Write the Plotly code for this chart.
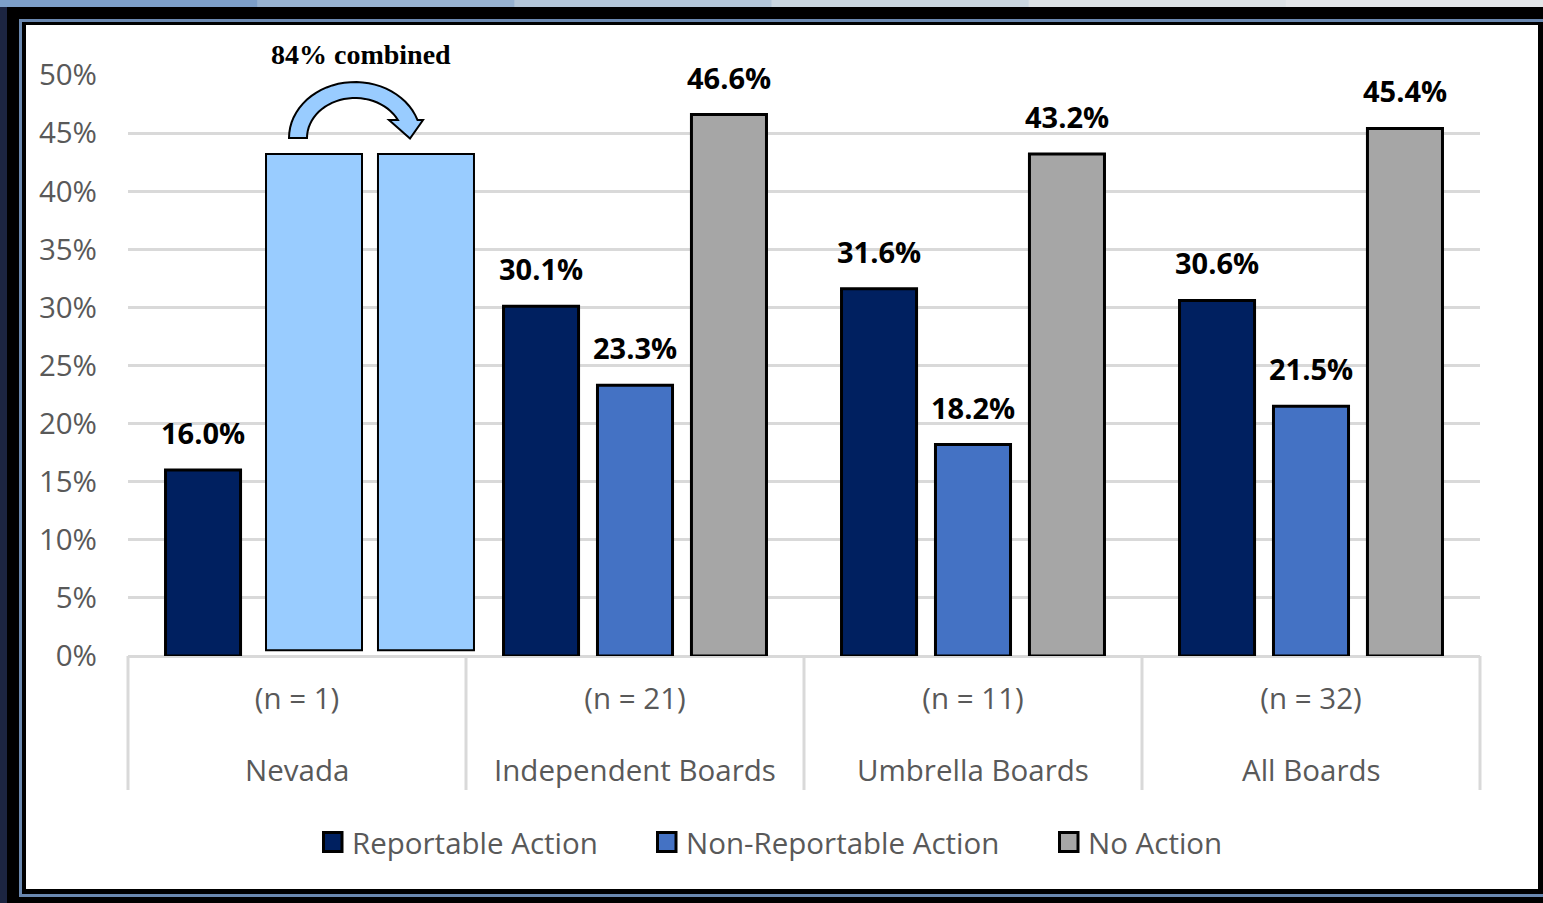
import math
import plotly.graph_objects as go

# ---------------- data ----------------
categories = ["Nevada", "Independent Boards", "Umbrella Boards", "All Boards"]
n_labels = ["(n = 1)", "(n = 21)", "(n = 11)", "(n = 32)"]
reportable = [16.0, 30.1, 31.6, 30.6]
non_reportable = [None, 23.3, 18.2, 21.5]
no_action = [None, 46.6, 43.2, 45.4]
nevada_combined_tops = [43.2, 43.2]   # the two light-blue "84% combined" bars
nevada_combined_base = 0.5
y_ticks = [0, 5, 10, 15, 20, 25, 30, 35, 40, 45, 50]
y_tick_labels = ["0%", "5%", "10%", "15%", "20%", "25%", "30%", "35%", "40%", "45%", "50%"]
series_names = ["Reportable Action", "Non-Reportable Action", "No Action"]
series_colors = ["#002060", "#4472C4", "#A6A6A6"]
combined_color = "#99CCFF"

# ---------------- geometry helpers ----------------
FW, FH = 1543, 903
PL, PR, PT, PB = 128, 1480, 75, 656
W, H = PR - PL, PB - PT


def fx(px):
    return (px - PL) / W


def fy(py):
    return (PB - py) / H


GRAY = "#595959"
GRID = "#D9D9D9"
FONT = "Open Sans"
FS = 29.5

bar_w = 0.222
centers = [-0.278, 0.0, 0.278]

fig = go.Figure()
all_series = [reportable, non_reportable, no_action]
for name, vals, col, c in zip(series_names, all_series, series_colors, centers):
    fig.add_trace(go.Bar(
        name=name, x=categories, y=vals,
        width=bar_w, offset=c - bar_w / 2,
        marker=dict(color=col, line=dict(color="black", width=3)),
        showlegend=False, hoverinfo="x+y+name",
    ))

# light blue combined bars for Nevada
fig.add_trace(go.Bar(
    name="Nevada combined", x=[categories[0]] * 2,
    y=[t - nevada_combined_base for t in nevada_combined_tops],
    base=[nevada_combined_base] * 2,
    width=[0.284, 0.284], offset=[-0.0917, 0.2396],
    marker=dict(color=combined_color, line=dict(color="black", width=2)),
    showlegend=False,
))

annotations = []
# data labels
for vals, c in zip(all_series, centers):
    for i, v in enumerate(vals):
        if v is None:
            continue
        annotations.append(dict(
            x=i + c, y=v, xref="x", yref="y", text=f"{v:.1f}%",
            showarrow=False, yanchor="bottom", yshift=16,
            font=dict(family=FONT, size=29, color="black", weight="bold"),
        ))

# category names (second tick row)
for cat in categories:
    annotations.append(dict(
        x=cat, y=fy(769), xref="x", yref="paper", text=cat, showarrow=False,
        yanchor="middle", font=dict(family=FONT, size=FS, color=GRAY),
    ))

# "84% combined"
annotations.append(dict(
    x=fx(361), y=fy(54), xref="paper", yref="paper", text="<b>84% combined</b>",
    showarrow=False, yanchor="middle", xanchor="center",
    font=dict(family="Liberation Serif", size=28, color="black"),
))

shapes = []
# frame
top_cols = ["#7D9FC8", "#97B2D0", "#B3C6D8", "#CAD6DF", "#DBE1E4", "#E3E6E8"]
seg = FW / len(top_cols)
for k, col in enumerate(top_cols):
    shapes.append(dict(type="rect", xref="paper", yref="paper",
                       x0=fx(k * seg), x1=fx((k + 1) * seg + 1), y0=fy(0), y1=fy(7),
                       fillcolor=col, line=dict(width=0), layer="below"))
shapes.append(dict(type="rect", xref="paper", yref="paper",
                   x0=fx(0), x1=fx(7), y0=fy(7), y1=fy(FH),
                   fillcolor="#1C2541", line=dict(width=0), layer="below"))
shapes.append(dict(type="rect", xref="paper", yref="paper",
                   x0=fx(20.5), x1=fx(1580), y0=fy(20.5), y1=fy(895.5),
                   fillcolor="rgba(0,0,0,0)", line=dict(color="#6A88B0", width=3),
                   layer="below"))
shapes.append(dict(type="rect", xref="paper", yref="paper",
                   x0=fx(26), x1=fx(1538), y0=fy(25), y1=fy(889),
                   fillcolor="white", line=dict(width=0), layer="below"))
# category dividers
for k in range(len(categories) + 1):
    shapes.append(dict(type="line", xref="paper", yref="paper",
                       x0=k / len(categories), x1=k / len(categories), y0=0, y1=fy(790),
                       line=dict(color=GRID, width=3), layer="below"))

# curved arrow
pts = []
cx, cy = 355, 138
rxo, ryo = 66, 56
rxi, ryi = 48, 40
t_end_o = math.asin(18 / ryo)
t_end_i = math.asin(18 / ryi)
N = 30
for j in range(N + 1):
    t = math.pi - (math.pi - t_end_o) * j / N
    pts.append((cx + rxo * math.cos(t), cy - ryo * math.sin(t)))
pts.append((423, 120))
pts.append((410, 138.5))
pts.append((389, 120))
for j in range(N + 1):
    t = t_end_i + (math.pi - t_end_i) * j / N
    pts.append((cx + rxi * math.cos(t), cy - ryi * math.sin(t)))
path = "M " + " L ".join(f"{fx(a):.5f},{fy(b):.5f}" for a, b in pts) + " Z"
shapes.append(dict(type="path", xref="paper", yref="paper", path=path,
                   fillcolor=combined_color, line=dict(color="black", width=2)))

# custom legend
leg_boxes = [322, 656, 1058]
leg_y = 842
for name, col, x0 in zip(series_names, series_colors, leg_boxes):
    shapes.append(dict(type="rect", xref="paper", yref="paper",
                       x0=fx(x0 + 1.5), x1=fx(x0 + 20), y0=fy(leg_y - 9.5), y1=fy(leg_y + 9.5),
                       fillcolor=col, line=dict(color="black", width=3)))
    annotations.append(dict(
        x=fx(x0 + 28), y=fy(leg_y), xref="paper", yref="paper", text=name,
        showarrow=False, xanchor="left", yanchor="middle",
        font=dict(family=FONT, size=FS, color=GRAY),
    ))

fig.update_layout(
    width=FW, height=FH,
    margin=dict(l=PL, r=FW - PR, t=PT, b=FH - PB, pad=0),
    paper_bgcolor="black", plot_bgcolor="rgba(0,0,0,0)",
    barmode="overlay",
    showlegend=False,
    font=dict(family=FONT, size=FS, color=GRAY),
    xaxis=dict(type="category", categoryorder="array", categoryarray=categories,
               tickvals=categories, ticktext=n_labels, range=[-0.5, 3.5],
               showgrid=False, showline=False, ticks="", zeroline=False,
               tickfont=dict(family=FONT, size=FS, color=GRAY), ticklabelstandoff=22),
    yaxis=dict(range=[0, 50], tickmode="array", tickvals=y_ticks, ticktext=y_tick_labels,
               showgrid=True, gridcolor=GRID, gridwidth=3,
               zeroline=True, zerolinecolor=GRID, zerolinewidth=3,
               showline=False, ticks="",
               tickfont=dict(family=FONT, size=FS, color=GRAY), ticklabelstandoff=30),
    annotations=annotations,
    shapes=shapes,
)

fig.write_html("out.html", config={"displayModeBar": False},
               post_script="document.body.style.margin='0';document.body.style.overflow='hidden';")
